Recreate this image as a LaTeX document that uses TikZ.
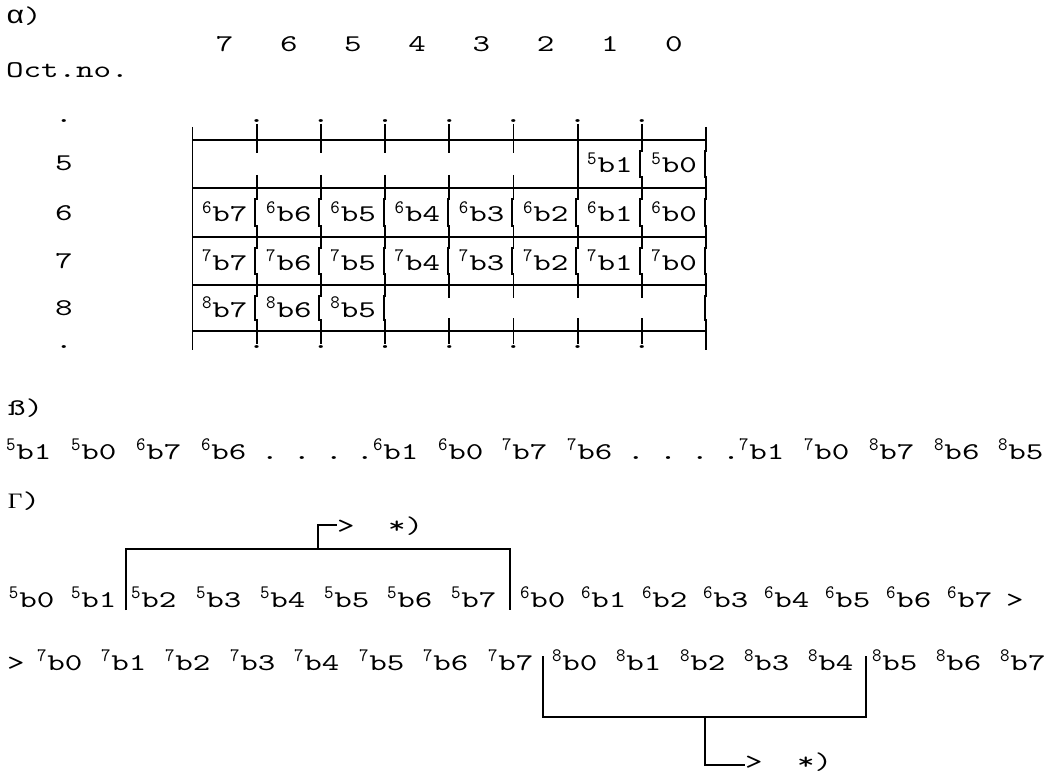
\documentclass[tikz,border=0pt]{standalone}
\usepackage{fontspec}
\newfontfamily\mainmono[FakeStretch=1.39]{lmmono10-regular.otf}
\newfontfamily\supmono[FakeStretch=0.95]{lmmono10-regular.otf}
\newfontfamily\grk[FakeStretch=1.15]{Liberation Serif}
\newfontfamily\grka[FakeStretch=1.2]{Liberation Mono}
\newcommand\mfont{\mainmono\fontsize{24}{24}\selectfont}
\newcommand\sfont{\supmono\fontsize{19}{19}\selectfont}
\newcommand\gfont{\grk\fontsize{22}{22}\selectfont}
\newcommand\afont{\grka\fontsize{25}{25}\selectfont}
\newcommand\tk[2]{\raisebox{8.5pt}{\sfont #1}\kern1pt b#2}
\newcommand\kv[3]{\draw[ln] (#1,#2) -- (#1,#2+11) -- (#1-1.5,#2+11) -- (#1-1.5,#3-11) -- (#1,#3-11) -- (#1,#3);}
\begin{document}
\begin{tikzpicture}[x=1pt,y=-1pt,
  txt/.style={inner sep=0pt,outer sep=0pt,font=\mfont,anchor=base west},
  ctxt/.style={inner sep=0pt,outer sep=0pt,font=\mfont,anchor=base},
  ln/.style={line width=1.9pt},
  br/.style={line width=2pt}]
\useasboundingbox[fill=white] (0,0) rectangle (1050,773);

% ---------- alpha ----------
\node[txt] (alpha) at (6,24) {{\afont α})};
\foreach \d [count=\i from 0] in {7,6,5,4,3,2,1,0}
  \node[ctxt] (oct\d) at ({224.6+64.2*\i},52) {\d};
\node[txt] (octno) at (6,78) {Oct.no.};

\node[ctxt] (ldtop) at (64,122.5) {.};
\node[ctxt] (l5) at (64,171) {5};
\node[ctxt] (l6) at (64,220) {6};
\node[ctxt] (l7) at (64,268) {7};
\node[ctxt] (l8) at (64,315) {8};
\node[ctxt] (ldbot) at (64,348.5) {.};

\foreach \j in {1,...,7} {
  \node[ctxt] (td\j) at ({192.5+64.2*\j},122.5) {.};
  \node[ctxt] (bd\j) at ({192.5+64.2*\j},348.5) {.};
}

% horizontal rules
\foreach \y in {140,188.3,237.3,285,331}
  \draw[ln] (192.5,\y) -- (706.1,\y);

% c0
\draw[ln] (192.5,127) -- (192.5,350);
% c8
\draw[ln] (706.1,127) -- (706.1,140);
\kv{706.1}{140}{188.3}
\kv{706.1}{188.3}{237.3}
\kv{706.1}{237.3}{285}
\kv{706.1}{285}{331}
\draw[ln] (706.1,331) -- (706.1,350);
% c1..c3
\foreach \x in {256.7,320.9,385.1} {
  \draw[ln] (\x,124) -- (\x,153);
  \draw[ln] (\x,175) -- (\x,188.3);
  \kv{\x}{188.3}{237.3}
  \kv{\x}{237.3}{285}
  \kv{\x}{285}{331}
  \draw[ln] (\x,331) -- (\x,344);
}
% c4, c5
\foreach \x in {449.3,513.5} {
  \draw[ln] (\x,124) -- (\x,153);
  \draw[ln] (\x,175) -- (\x,188.3);
  \kv{\x}{188.3}{237.3}
  \kv{\x}{237.3}{285}
  \draw[ln] (\x,285) -- (\x,298);
  \draw[ln] (\x,318) -- (\x,344);
}
% c6
\draw[ln] (577.7,124) -- (577.7,188.3);
\kv{577.7}{188.3}{237.3}
\kv{577.7}{237.3}{285}
\draw[ln] (577.7,285) -- (577.7,298);
\draw[ln] (577.7,318) -- (577.7,344);
% c7
\draw[ln] (641.9,124) -- (641.9,140);
\kv{641.9}{140}{188.3}
\kv{641.9}{188.3}{237.3}
\kv{641.9}{237.3}{285}
\draw[ln] (641.9,285) -- (641.9,298);
\draw[ln] (641.9,318) -- (641.9,344);

% cell texts
\node[txt] (c5b1) at ({577.7+9.5},173) {\tk{5}{1}};
\node[txt] (c5b0) at ({641.9+9.5},173) {\tk{5}{0}};
\foreach \d [count=\j from 0] in {7,6,5,4,3,2,1,0} {
  \node[txt] (c6b\d) at ({192.5+64.2*\j+9.5},221.5) {\tk{6}{\d}};
  \node[txt] (c7b\d) at ({192.5+64.2*\j+9.5},270) {\tk{7}{\d}};
}
\node[txt] (c8b7) at ({192.5+9.5},317) {\tk{8}{7}};
\node[txt] (c8b6) at ({256.7+9.5},317) {\tk{8}{6}};
\node[txt] (c8b5) at ({320.9+9.5},317) {\tk{8}{5}};

% ---------- beta ----------
\node[txt] (beta) at (8,415) {ß)};
\foreach \s/\d/\x [count=\k] in {5/1/6,5/0/71,6/7/136,6/6/201,6/1/373,6/0/438,7/7/502,7/6/567,7/1/739,7/0/804,8/7/869,8/6/934,8/5/998}
  \node[txt] (bt\k) at (\x,459) {\tk{\s}{\d}};
\foreach \x [count=\k] in {270,302,334,365,636,668,700,731}
  \node[ctxt] (bdot\k) at (\x,459) {.};

% ---------- gamma ----------
\node[txt] (gamma) at (8,508) {{\gfont Γ})};
\foreach \s/\d/\x [count=\k] in {5/0/9,5/1/71,5/2/131,5/3/196,5/4/260,5/5/324,5/6/387,5/7/451,6/0/520,6/1/581,6/2/642,6/3/703,6/4/764,6/5/825,6/6/886,6/7/947}
  \node[txt] (ga\k) at (\x,607) {\tk{\s}{\d}};
\node[txt] (gend1) at (1006,607) {>};

\node[txt] (gbeg2) at (7,670) {>};
\foreach \s/\d/\x [count=\k] in {7/0/37,7/1/101,7/2/165,7/3/230,7/4/294,7/5/359,7/6/423,7/7/488,8/0/552,8/1/616,8/2/680,8/3/744,8/4/808,8/5/872,8/6/936,8/7/1000}
  \node[txt] (gb\k) at (\x,670) {\tk{\s}{\d}};

% top bracket
\coordinate (tl) at (126,610);
\coordinate (tla) at (126,549);
\coordinate (tra) at (510,549);
\coordinate (tr) at (510,610);
\draw[br] (tl) -- (tla) -- (tra) -- (tr);
\coordinate (tsb) at (318,549);
\coordinate (tst) at (318,525);
\node[txt] (tarr) at (337,533) {>};
\node[txt] (tstar) at (388,533) {*)};
\draw[br] (tsb) -- (tst) -- (tst -| tarr.west);

% bottom bracket
\coordinate (bl) at (543,656);
\coordinate (bla) at (543,717);
\coordinate (bra) at (866,717);
\coordinate (brr) at (866,656);
\draw[br] (bl) -- (bla) -- (bra) -- (brr);
\coordinate (bst) at (705,717);
\coordinate (bsb) at (705,765);
\node[txt] (barr) at (745,769) {>};
\node[txt] (bstar) at (797,769) {*)};
\draw[br] (bst) -- (bsb) -- (bsb -| barr.west);
\end{tikzpicture}
\end{document}
